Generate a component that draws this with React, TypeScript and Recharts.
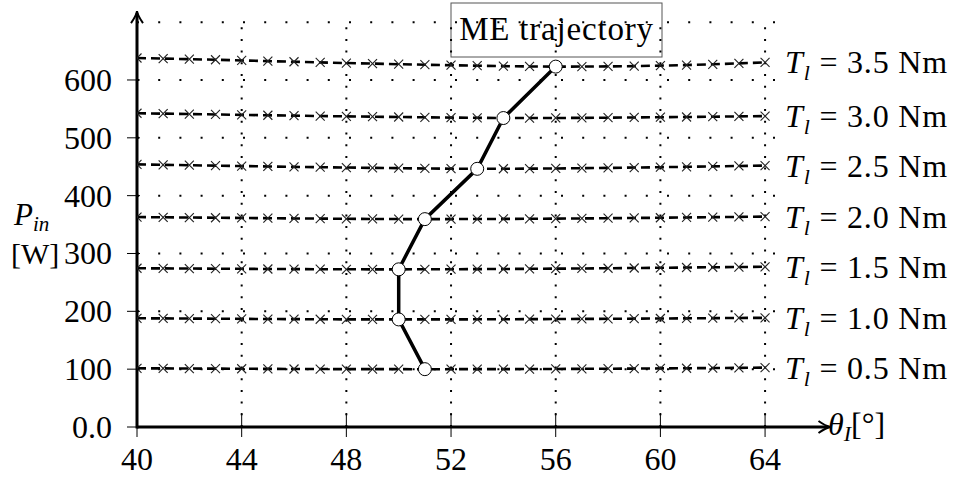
import React from "react";
import { LineChart, Line, XAxis, YAxis, ReferenceLine } from "recharts";

const angles = [40, 41, 42, 43, 44, 45, 46, 47, 48, 49, 50, 51, 52, 53, 54, 55, 56, 57, 58, 59, 60, 61, 62, 63, 64];

const p05 = [101.5, 101.3, 101.1, 100.9, 100.7, 100.5, 100.3, 100.2, 100.1, 100, 100, 99.9, 100, 100, 100.1, 100.2, 100.4, 100.6, 100.8, 101, 101.3, 101.6, 101.9, 102.3, 102.7];
const p10 = [188, 187.8, 187.5, 187.2, 187, 186.7, 186.5, 186.3, 186.1, 186, 186, 186, 186.1, 186.2, 186.3, 186.5, 186.7, 186.9, 187.1, 187.3, 187.6, 187.9, 188.2, 188.5, 188.8];
const p15 = [274.5, 274.2, 274, 273.7, 273.5, 273.2, 273, 272.8, 272.7, 272.6, 272.6, 272.7, 272.8, 273, 273.2, 273.5, 273.8, 274.1, 274.5, 274.9, 275.3, 275.8, 276.2, 276.6, 277];
const p20 = [363, 362.6, 362.2, 361.8, 361.4, 361, 360.6, 360.3, 360, 359.7, 359.5, 359.4, 359.5, 359.6, 359.8, 360, 360.3, 360.6, 361, 361.4, 361.8, 362.3, 362.8, 363.3, 363.8];
const p25 = [454, 453.3, 452.6, 451.9, 451.2, 450.5, 449.8, 449.2, 448.6, 448, 447.5, 447, 446.6, 446.4, 446.5, 446.7, 447, 447.5, 448, 448.6, 449.2, 449.9, 450.6, 451.3, 452];
const p30 = [542.5, 541.8, 541.1, 540.4, 539.7, 539, 538.3, 537.7, 537.1, 536.5, 536, 535.5, 535, 534.6, 534.3, 534.2, 534.3, 534.5, 534.8, 535.2, 535.6, 536, 536.5, 537, 537.5];
const p35 = [638, 637, 636, 635, 633.8, 632.6, 631.5, 630.4, 629.3, 628.3, 627.3, 626.4, 625.5, 624.7, 624, 623.4, 623.1, 623.2, 623.5, 624, 624.8, 625.8, 627.1, 628.7, 630.5];

const torques = ["0.5", "1.0", "1.5", "2.0", "2.5", "3.0", "3.5"];
const powerSeries = [p05, p10, p15, p20, p25, p30, p35];

// maximum efficiency points
const meAngle = [51, 50, 50, 51, 53, 54, 56];
const mePower = [100, 186, 272.6, 359.4, 446.4, 534.2, 623.1];

const xTicks = [40, 44, 48, 52, 56, 60, 64];
const yTicks = [0, 100, 200, 300, 400, 500, 600];
const gridRows = [100, 200, 300, 400, 500, 600, 700];

const FONT = "'Liberation Serif', 'DejaVu Serif', serif";

const seriesRows = powerSeries.map((s) => angles.map((a, i) => ({ x: a, y: s[i] })));
const meRows = meAngle.map((a, i) => ({ x: a, y: mePower[i] }));

function Cross(props: any) {
  const { cx, cy } = props;
  if (cx == null || cy == null) return null;
  return (
    <g stroke="#222" strokeWidth={1.1}>
      <line x1={cx - 4.5} y1={cy - 4.5} x2={cx + 4.5} y2={cy + 4.5} />
      <line x1={cx - 4.5} y1={cy + 4.5} x2={cx + 4.5} y2={cy - 4.5} />
    </g>
  );
}

function OpenDot(props: any) {
  const { cx, cy } = props;
  if (cx == null || cy == null) return null;
  return <circle cx={cx} cy={cy} r={6.5} fill="#fff" stroke="#000" strokeWidth={1} />;
}

function XTick(props: any) {
  const { x, y, payload } = props;
  return (
    <g>
      <line x1={x} y1={y - 14} x2={x} y2={y + 10} stroke="#000" strokeWidth={1} />
      <text x={x} y={y + 43} textAnchor="middle" fontFamily={FONT} fontSize={32} fill="#000">
        {payload.value}
      </text>
    </g>
  );
}

function YTick(props: any) {
  const { x, y, payload } = props;
  return (
    <g>
      <line x1={x - 10} y1={y} x2={x + 3} y2={y} stroke="#000" strokeWidth={1} />
      <text x={x - 25} y={y + 11} textAnchor="end" fontFamily={FONT} fontSize={32} fill="#000">
        {payload.value === 0 ? "0.0" : payload.value}
      </text>
    </g>
  );
}

function HArrow(p: any) {
  const { x1, y1, x2, y2 } = p;
  return (
    <g>
      <line x1={x1} y1={y1} x2={x2 - 2} y2={y2} stroke="#000" strokeWidth={3} />
      <path d={`M ${x2 - 12} ${y2 - 6} Q ${x2 - 5} ${y2 - 1} ${x2} ${y2} Q ${x2 - 5} ${y2 + 1} ${x2 - 12} ${y2 + 6}`} stroke="#000" strokeWidth={2} fill="none" />
    </g>
  );
}

function VArrow(p: any) {
  const { x1, y1, x2, y2 } = p;
  const top = Math.min(y1, y2);
  const bottom = Math.max(y1, y2);
  return (
    <g>
      <line x1={x1} y1={bottom + 1.5} x2={x2} y2={top + 2} stroke="#000" strokeWidth={3} />
      <path d={`M ${x2 - 6} ${top + 12} Q ${x2 - 1} ${top + 5} ${x2} ${top} Q ${x2 + 1} ${top + 5} ${x2 + 6} ${top + 12}`} stroke="#000" strokeWidth={2} fill="none" />
    </g>
  );
}

function EndLabel(torque: string, last: number) {
  return (props: any) => {
    const { x, y, index } = props;
    if (index !== last) return null;
    return (
      <text x={x + 20} y={y + 11} fontFamily={FONT} fontSize={32} fill="#000" letterSpacing={0.8}>
        <tspan fontStyle="italic">T</tspan>
        <tspan fontStyle="italic" fontSize={22} dy={7}>l</tspan>
        <tspan dy={-7}>{` = ${torque} Nm`}</tspan>
      </text>
    );
  };
}

export default function App() {
  return (
    <div style={{ position: "absolute", left: 0, top: 0, background: "#fff" }}>
      <LineChart width={962} height={480} margin={{ top: 10, right: 131.5, bottom: 0, left: 0 }}>
        <XAxis
          dataKey="x"
          type="number"
          domain={[40, 66.5]}
          ticks={xTicks}
          axisLine={false}
          tickLine={false}
          tickSize={0}
          tickMargin={0}
          height={53}
          tick={<XTick />}
          allowDataOverflow
        />
        <YAxis
          dataKey="y"
          type="number"
          domain={[0, 721]}
          ticks={yTicks}
          axisLine={false}
          tickLine={false}
          tickSize={0}
          tickMargin={0}
          width={137}
          tick={<YTick />}
          allowDataOverflow
        />
        {xTicks.slice(1).map((t) => (
          <ReferenceLine
            key={"vx" + t}
            segment={[{ x: t, y: 0 }, { x: t, y: 700 }]}
            stroke="#000"
            strokeWidth={2}
            strokeDasharray="2 9.7"
          />
        ))}
        {gridRows.map((r) => (
          <ReferenceLine
            key={"hy" + r}
            segment={[{ x: 40, y: r }, { x: 64.4, y: r }]}
            stroke="#000"
            strokeWidth={2}
            strokeDasharray="2 19.2"
          />
        ))}
        <ReferenceLine segment={[{ x: 40, y: 0 }, { x: 66.5, y: 0 }]} shape={HArrow} />
        <ReferenceLine segment={[{ x: 40, y: 0 }, { x: 40, y: 719 }]} shape={VArrow} />
        {seriesRows.map((rows, k) => (
          <Line
            key={torques[k]}
            data={rows}
            dataKey="y"
            type="linear"
            stroke="#000"
            strokeWidth={2.6}
            strokeDasharray="9 5"
            dot={<Cross />}
            activeDot={false}
            label={EndLabel(torques[k], rows.length - 1)}
            isAnimationActive={false}
          />
        ))}
        <Line
          data={meRows}
          dataKey="y"
          type="linear"
          stroke="#000"
          strokeWidth={3.5}
          dot={<OpenDot />}
          activeDot={false}
          isAnimationActive={false}
        />
        <g>
          <rect x={451} y={3} width={211} height={54} fill="#fff" stroke="#555" strokeWidth={1} />
          <text x={556.5} y={40} textAnchor="middle" fontFamily={FONT} fontSize={33} fill="#000" letterSpacing={0.8}>
            ME trajectory
          </text>
        </g>
        <g fontFamily={FONT} fill="#000">
          <text x={14} y={225} fontSize={31}>
            <tspan fontStyle="italic">P</tspan>
            <tspan fontStyle="italic" fontSize={21} dy={6}>in</tspan>
          </text>
          <text x={11} y={264} fontSize={30}>[W]</text>
          <text x={828} y={435} fontSize={32}>
            <tspan fontStyle="italic">θ</tspan>
            <tspan fontStyle="italic" fontSize={22} dy={6}>I</tspan>
            <tspan dy={-6}>[°]</tspan>
          </text>
        </g>
      </LineChart>
    </div>
  );
}
